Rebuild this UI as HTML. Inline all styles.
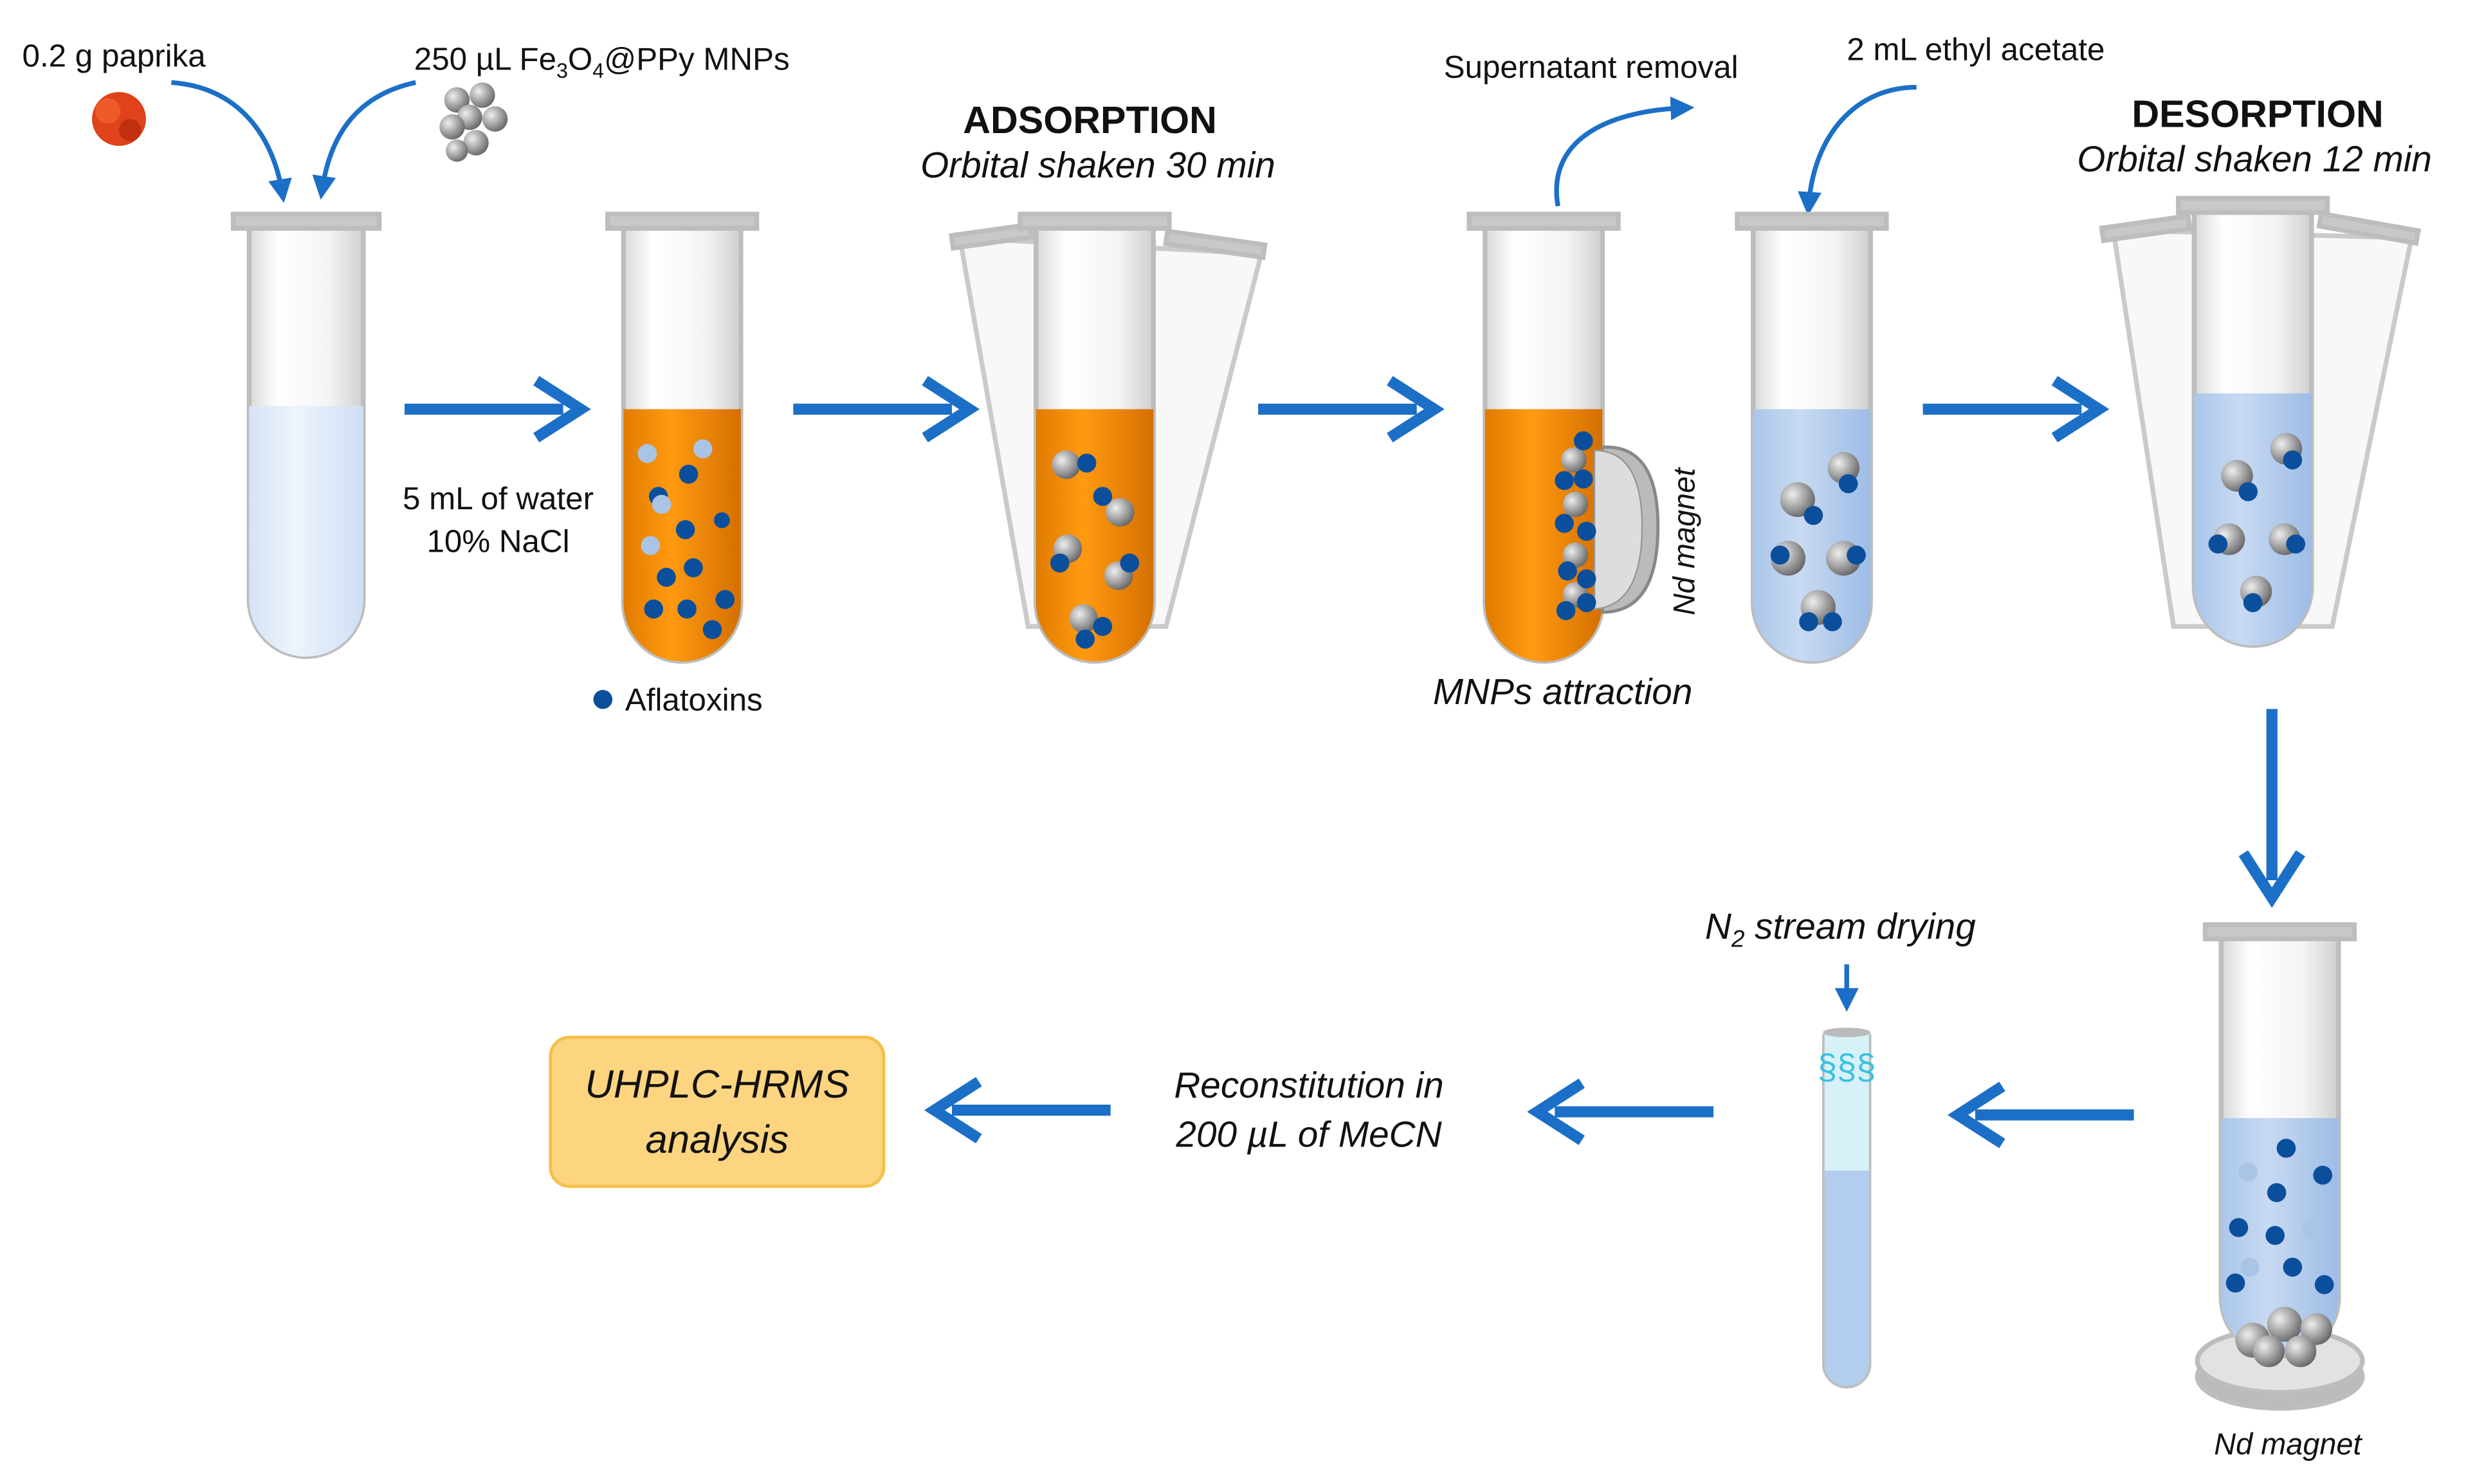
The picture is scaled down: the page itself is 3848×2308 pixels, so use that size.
<!DOCTYPE html>
<html><head><meta charset="utf-8"><style>
html,body{margin:0;padding:0;background:#fff}
svg{display:block}
text{font-family:"Liberation Sans",sans-serif;fill:#111}
</style></head><body>
<svg width="3848" height="2308" viewBox="0 0 1560 935.7" preserveAspectRatio="none" xmlns="http://www.w3.org/2000/svg">
<defs>
<linearGradient id="glass" x1="0" x2="1"><stop offset="0" stop-color="#d8d8d8"/><stop offset=".25" stop-color="#fff"/><stop offset=".7" stop-color="#f4f4f4"/><stop offset="1" stop-color="#cfcfcf"/></linearGradient>
<linearGradient id="org" x1="0" x2="1"><stop offset="0" stop-color="#e07b00"/><stop offset=".4" stop-color="#ff9a10"/><stop offset="1" stop-color="#d46f00"/></linearGradient>
<linearGradient id="blu" x1="0" x2="1"><stop offset="0" stop-color="#aac6ea"/><stop offset=".4" stop-color="#c8daf2"/><stop offset="1" stop-color="#9dbce6"/></linearGradient>
<linearGradient id="lb" x1="0" x2="1"><stop offset="0" stop-color="#d4e3f6"/><stop offset=".4" stop-color="#eef4fc"/><stop offset="1" stop-color="#cfdff4"/></linearGradient>
<radialGradient id="ball" cx=".35" cy=".35" r=".7"><stop offset="0" stop-color="#eee"/><stop offset="1" stop-color="#666"/></radialGradient>
<marker id="ah" viewBox="0 0 10 10" refX="6" refY="5" markerWidth="5" markerHeight="5" orient="auto"><path d="M0 0L10 5L0 10z" fill="#1c6fc6"/></marker>
</defs>
<g stroke="#1c6fc6" stroke-width="7" fill="none" stroke-linejoin="miter">
<path d="M255 258H355"/><path d="M338 240L366 258L338 276"/>
<path d="M500 258H600"/><path d="M583 240L611 258L583 276"/>
<path d="M793 258H893"/><path d="M876 240L904 258L876 276"/>
<path d="M1212 258H1312"/><path d="M1295 240L1323 258L1295 276"/>
<path d="M1432 447V555"/><path d="M1414 538L1432 566L1450 538"/>
<path d="M1345 703H1245"/><path d="M1262 685L1234 703L1262 721"/>
<path d="M1080 701H980"/><path d="M997 683L969 701L997 719"/>
<path d="M700 700H600"/><path d="M617 682L589 700L617 718"/>
</g>
<g stroke="#1c6fc6" stroke-width="3" fill="none" marker-end="url(#ah)">
<path d="M108 52C150 55 172 85 178 122"/>
<path d="M262 52C225 60 208 85 203 120"/>
<path d="M982 130C975 90 1010 70 1062 68"/>
<path d="M1208 55C1170 55 1143 85 1140 130"/>
<path d="M1164 608V632"/>
</g>
<!-- paprika -->
<circle cx="75" cy="75" r="17" fill="#e0421b"/><circle cx="68" cy="70" r="8" fill="#f05a2a"/><circle cx="82" cy="82" r="7" fill="#c03010"/>
<g fill="url(#ball)"><circle cx="288" cy="63" r="8"/><circle cx="304" cy="60" r="8"/><circle cx="296" cy="74" r="8"/><circle cx="312" cy="75" r="8"/><circle cx="285" cy="80" r="8"/><circle cx="300" cy="90" r="8"/><circle cx="288" cy="95" r="7"/></g>
<!-- tube1 -->
<g stroke="#bdbdbd" stroke-width="3">
<path d="M157 145V378A36 36 0 0 0 229 378V145" fill="url(#glass)"/>
<path d="M157 256V378A36 36 0 0 0 229 378V256Z" fill="url(#lb)" stroke="none"/>
<rect x="147" y="135" width="92" height="9" fill="#c8c8c8"/>
<!-- tube2 -->
<path d="M393 145V380A37 37 0 0 0 467 380V145" fill="url(#glass)"/>
<path d="M393 258V380A37 37 0 0 0 467 380V258Z" fill="url(#org)" stroke="none"/>
<rect x="383" y="135" width="94" height="9" fill="#c8c8c8"/>
<!-- tube3 fan -->
<path d="M605 150L648 395L735 395L795 160Z" fill="#f7f7f7" opacity=".8"/>
<path d="M653 145V380A37 37 0 0 0 727 380V145" fill="url(#glass)"/>
<path d="M653 258V380A37 37 0 0 0 727 380V258Z" fill="url(#org)" stroke="none"/>
<rect x="600" y="145" width="50" height="8" fill="#c8c8c8" transform="rotate(-8 625 149)"/>
<rect x="735" y="150" width="62" height="8" fill="#c8c8c8" transform="rotate(8 766 154)"/>
<rect x="643" y="135" width="94" height="9" fill="#c8c8c8"/>
<!-- tube4 -->
<path d="M936 145V380A37 37 0 0 0 1010 380V145" fill="url(#glass)"/>
<path d="M936 258V380A37 37 0 0 0 1010 380V258Z" fill="url(#org)" stroke="none"/>
<rect x="926" y="135" width="94" height="9" fill="#c8c8c8"/>
<!-- tube5 -->
<path d="M1105 145V380A37 37 0 0 0 1179 380V145" fill="url(#glass)"/>
<path d="M1105 258V380A37 37 0 0 0 1179 380V258Z" fill="url(#blu)" stroke="none"/>
<rect x="1095" y="135" width="94" height="9" fill="#c8c8c8"/>
<!-- tube6 fan -->
<path d="M1332 145L1370 395L1470 395L1520 150Z" fill="#f7f7f7" opacity=".8"/>
<path d="M1383 135V370A37 37 0 0 0 1457 370V135" fill="url(#glass)"/>
<path d="M1383 248V370A37 37 0 0 0 1457 370V248Z" fill="url(#blu)" stroke="none"/>
<rect x="1325" y="140" width="55" height="8" fill="#c8c8c8" transform="rotate(-8 1352 144)"/>
<rect x="1462" y="140" width="62" height="8" fill="#c8c8c8" transform="rotate(10 1493 144)"/>
<rect x="1373" y="125" width="94" height="9" fill="#c8c8c8"/>
<!-- tube7 -->
<ellipse cx="1437" cy="868" rx="52" ry="20" fill="#bbb"/>
<ellipse cx="1437" cy="858" rx="52" ry="20" fill="#e2e2e2"/>
<path d="M1400 593V818A37 37 0 0 0 1474 818V593" fill="url(#glass)"/>
<path d="M1400 705V818A37 37 0 0 0 1474 818V705Z" fill="url(#blu)" stroke="none"/>
<rect x="1390" y="583" width="94" height="9" fill="#c8c8c8"/>
<!-- thin tube -->
<path d="M1150 652V860A14 14 0 0 0 1178 860V652" fill="#f2f8fc"/>
<path d="M1150 738V860A14 14 0 0 0 1178 860V738Z" fill="#b3cdee" stroke="none"/>
<path d="M1150 652V738H1178V652Z" fill="#d6f1f8" stroke="none"/>
</g>
<ellipse cx="1164" cy="651" rx="15" ry="3" fill="#bbb"/>
<text x="1164" y="680" font-size="22" fill="#3bc1e0" text-anchor="middle" style="fill:#3bc1e0">§§§</text>
<!-- magnet4 -->
<path d="M1010 282Q1045 280 1045 332Q1045 386 1010 386Z" fill="#bbb" stroke="#888" stroke-width="2"/>
<path d="M1005 284Q1035 284 1035 332Q1035 382 1005 384Z" fill="#ddd" stroke="#999"/>
<!-- balls -->
<g fill="url(#ball)">
<circle cx="672" cy="293" r="9"/><circle cx="706" cy="323" r="9"/><circle cx="673" cy="346" r="9"/><circle cx="705" cy="363" r="9"/><circle cx="683" cy="390" r="9"/>
<circle cx="992" cy="290" r="8"/><circle cx="993" cy="318" r="8"/><circle cx="993" cy="350" r="8"/><circle cx="993" cy="375" r="8"/>
<circle cx="1133" cy="315" r="11"/><circle cx="1162" cy="295" r="10"/><circle cx="1127" cy="352" r="11"/><circle cx="1162" cy="352" r="11"/><circle cx="1146" cy="383" r="11"/>
<circle cx="1410" cy="300" r="10"/><circle cx="1441" cy="283" r="10"/><circle cx="1405" cy="340" r="10"/><circle cx="1440" cy="340" r="10"/><circle cx="1422" cy="373" r="10"/>
<circle cx="1420" cy="845" r="11"/><circle cx="1440" cy="835" r="11"/><circle cx="1460" cy="838" r="10"/><circle cx="1430" cy="852" r="10"/><circle cx="1450" cy="852" r="10"/>
</g>
<g fill="#0b4f9c">
<circle cx="434" cy="299" r="6"/><circle cx="415" cy="313" r="6"/><circle cx="432" cy="334" r="6"/><circle cx="455" cy="328" r="5"/><circle cx="420" cy="364" r="6"/><circle cx="437" cy="358" r="6"/><circle cx="457" cy="378" r="6"/><circle cx="412" cy="384" r="6"/><circle cx="433" cy="384" r="6"/><circle cx="449" cy="397" r="6"/><circle cx="685" cy="292" r="6"/><circle cx="695" cy="313" r="6"/><circle cx="668" cy="355" r="6"/><circle cx="712" cy="355" r="6"/><circle cx="695" cy="395" r="6"/><circle cx="684" cy="403" r="6"/>
<circle cx="998" cy="278" r="6"/><circle cx="986" cy="303" r="6"/><circle cx="998" cy="302" r="6"/><circle cx="986" cy="330" r="6"/><circle cx="1000" cy="335" r="6"/><circle cx="988" cy="360" r="6"/><circle cx="1000" cy="365" r="6"/><circle cx="987" cy="385" r="6"/><circle cx="1000" cy="380" r="6"/>
<circle cx="1143" cy="325" r="6"/><circle cx="1165" cy="305" r="6"/><circle cx="1122" cy="350" r="6"/><circle cx="1170" cy="350" r="6"/><circle cx="1140" cy="392" r="6"/><circle cx="1155" cy="392" r="6"/>
<circle cx="1417" cy="310" r="6"/><circle cx="1445" cy="290" r="6"/><circle cx="1398" cy="343" r="6"/><circle cx="1447" cy="343" r="6"/><circle cx="1420" cy="380" r="6"/>
<circle cx="1441" cy="724" r="6"/><circle cx="1435" cy="752" r="6"/><circle cx="1464" cy="741" r="6"/><circle cx="1411" cy="774" r="6"/><circle cx="1434" cy="779" r="6"/><circle cx="1445" cy="799" r="6"/><circle cx="1465" cy="810" r="6"/><circle cx="1409" cy="809" r="6"/>
<circle cx="380" cy="441" r="6"/>
</g>
<g fill="#a9c4e4">
<circle cx="408" cy="286" r="6"/><circle cx="443" cy="283" r="6"/><circle cx="417" cy="318" r="6"/><circle cx="410" cy="344" r="6"/><circle cx="1417" cy="739" r="6"/><circle cx="1457" cy="775" r="6"/><circle cx="1418" cy="799" r="6"/>
</g>
<!-- UHPLC box -->
<rect x="347" y="654" width="210" height="94" rx="12" fill="#fdd47f" stroke="#f5c04a" stroke-width="2"/>
<!-- texts -->
<g font-size="20">
<text x="14" y="42">0.2 g paprika</text>
<text x="261" y="44">250 µL Fe<tspan font-size="13" dy="5">3</tspan><tspan dy="-5">O</tspan><tspan font-size="13" dy="5">4</tspan><tspan dy="-5">@PPy MNPs</tspan></text>
<text x="314" y="321" text-anchor="middle">5 mL of water</text>
<text x="314" y="348" text-anchor="middle">10% NaCl</text>
<text x="394" y="448">Aflatoxins</text>
<text x="910" y="49">Supernatant removal</text>
<text x="1164" y="38">2 mL ethyl acetate</text>
</g>
<g font-size="24" font-weight="bold" text-anchor="middle">
<text x="687" y="84">ADSORPTION</text>
<text x="1423" y="80">DESORPTION</text>
</g>
<g font-size="23" font-style="italic" text-anchor="middle">
<text x="692" y="112">Orbital shaken 30 min</text>
<text x="1421" y="108">Orbital shaken 12 min</text>
<text x="985" y="444">MNPs attraction</text>
<text x="1160" y="592">N<tspan font-size="15" dy="5">2</tspan><tspan dy="-5"> stream drying</tspan></text>
<text x="825" y="692">Reconstitution in</text>
<text x="825" y="723">200 µL of MeCN</text>
<text x="452" y="692" font-size="25">UHPLC-HRMS</text>
<text x="452" y="727" font-size="25">analysis</text>
</g>
<text x="1442" y="917" font-size="19" font-style="italic" text-anchor="middle">Nd magnet</text>
<text transform="translate(1068 388) rotate(-90)" font-size="19" font-style="italic">Nd magnet</text>
</svg>
</body></html>
